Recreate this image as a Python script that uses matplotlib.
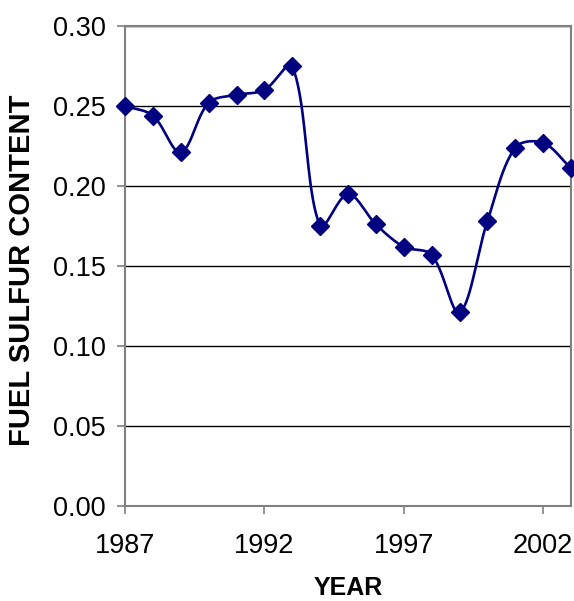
import numpy as np
import matplotlib
matplotlib.use("Agg")
import matplotlib.pyplot as plt

years = [1987, 1988, 1989, 1990, 1991, 1992, 1993, 1994, 1995, 1996,
         1997, 1998, 1999, 2000, 2001, 2002, 2003]
sulfur = [0.250, 0.244, 0.221, 0.252, 0.257, 0.260, 0.275, 0.175, 0.195,
          0.176, 0.162, 0.157, 0.121, 0.178, 0.224, 0.227, 0.211]
xticks = [1987, 1992, 1997, 2002]
yticks = [0.00, 0.05, 0.10, 0.15, 0.20, 0.25, 0.30]


def smooth(ax, xs, ys, n=40):
    # Excel-style smoothed line, built in display space: cubic Bezier
    # segments whose tangents are weighted by neighbouring chord lengths
    P = ax.transData.transform(np.column_stack([xs, ys]).astype(float))
    m = len(P)
    out = []
    for i in range(m - 1):
        p0 = P[i - 1] if i > 0 else P[i]
        p1 = P[i]
        p2 = P[i + 1]
        p3 = P[i + 2] if i + 2 < m else P[i + 1]
        d01 = np.linalg.norm(p1 - p0)
        d12 = np.linalg.norm(p2 - p1)
        d23 = np.linalg.norm(p3 - p2)
        c1 = p1 + (p2 - p0) * (d12 / (d01 + d12) if d01 + d12 > 0 else 0) / 3.0
        c2 = p2 - (p3 - p1) * (d12 / (d12 + d23) if d12 + d23 > 0 else 0) / 3.0
        t = np.linspace(0, 1, n)[:, None]
        seg = ((1 - t) ** 3) * p1 + 3 * ((1 - t) ** 2) * t * c1 + 3 * (1 - t) * t ** 2 * c2 + t ** 3 * p2
        out.append(seg if i == 0 else seg[1:])
    out = ax.transData.inverted().transform(np.vstack(out))
    return out[:, 0], out[:, 1]


plt.rcParams['font.family'] = ['Liberation Sans', 'DejaVu Sans']

W, H = 574, 601
fig = plt.figure(figsize=(W / 100, H / 100), dpi=100)
L, R, T, B = 125, 571, 26, 506
ax = fig.add_axes([L / W, (H - B) / H, (R - L) / W, (B - T) / H])

ax.set_xlim(1987, 2003)
ax.set_ylim(0, 0.30)

sx, sy = smooth(ax, years, sulfur)
ax.plot(sx, sy, color='#000080', lw=1.9, zorder=3, clip_on=False)
ax.plot(years, sulfur, linestyle='none', marker='D', markersize=9.5,
        color='#000080', zorder=4, clip_on=False)

ax.set_xticks(xticks)
ax.set_xticklabels([str(v) for v in xticks])
ax.set_yticks(yticks)
ax.set_yticklabels([f"{v:.2f}" for v in yticks])
ax.yaxis.grid(True, color='black', lw=1)
ax.set_axisbelow(True)

for s in ax.spines.values():
    s.set_color('#808080')
    s.set_linewidth(1.5)

ax.tick_params(axis='both', direction='out', length=5.5, width=1.2, color='#808080',
               labelsize=19.5)
ax.tick_params(axis='y', pad=8.5)
ax.tick_params(axis='x', pad=14)

ax.set_xlabel('YEAR', fontsize=18, fontweight='bold', va='center')
ax.xaxis.set_label_coords(0.5, (B - 588) / (B - T))
ax.set_ylabel('FUEL SULFUR CONTENT', fontsize=21, fontweight='bold', va='center')
ax.yaxis.set_label_coords((22 - L) / (R - L), (B - 270) / (B - T))

fig.savefig('out.png', dpi=100, facecolor='white')
